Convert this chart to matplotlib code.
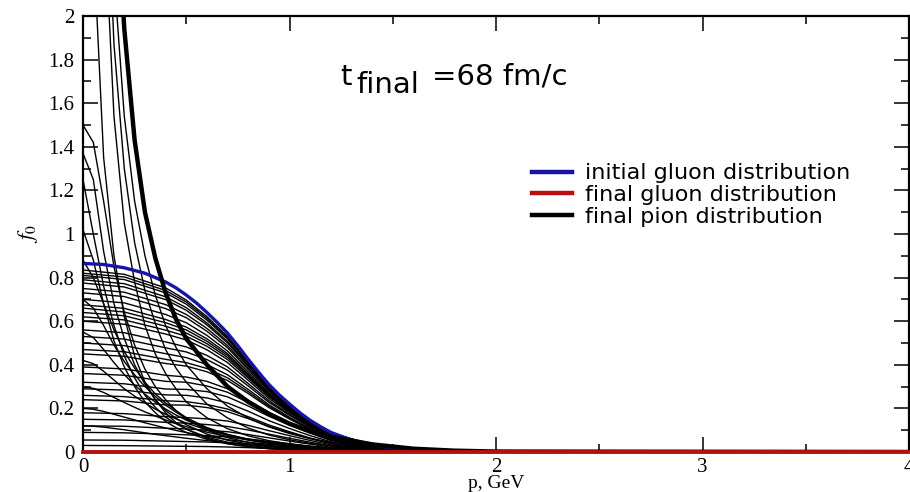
import matplotlib
matplotlib.use('Agg')
import matplotlib.pyplot as plt
from matplotlib.ticker import MultipleLocator

plt.rcParams['font.family'] = ['Liberation Serif', 'DejaVu Serif']
plt.rcParams['mathtext.fontset'] = 'stix'

# momentum grids (GeV)
p_blue = [0, 0.1, 0.2, 0.3, 0.4, 0.45, 0.5, 0.55, 0.6, 0.65, 0.7, 0.75, 0.8, 0.85, 0.9, 0.95,
          1.0, 1.05, 1.1, 1.15, 1.2, 1.3, 1.4, 1.5, 1.6, 1.8, 2.0, 4.0]
p_gluon = [0, 0.2, 0.4, 0.5, 0.6, 0.7, 0.8, 0.9, 1.0, 1.1, 1.2, 1.4, 1.6, 2.0, 4.0]
p_pion = [0, 0.05, 0.1, 0.15, 0.2, 0.25, 0.3, 0.35, 0.4, 0.45, 0.5, 0.6, 0.7, 0.8, 0.9, 1.0,
          1.1, 1.2, 1.4, 1.6, 1.8, 2.0, 4.0]
p_red = [0, 4.0]

# initial gluon distribution (blue)
gluon_initial = [0.865, 0.86, 0.845, 0.82, 0.78, 0.753, 0.72, 0.683, 0.64, 0.594, 0.545, 0.487,
                 0.425, 0.366, 0.31, 0.262, 0.22, 0.18, 0.145, 0.116, 0.09, 0.055, 0.033, 0.02,
                 0.012, 0.004, 0.001, 0]
# final gluon distribution (red)
gluon_final = [0.0, 0.0]
# final pion distribution (thick black)
pion_final = [12, 9.1, 4.3, 2.73, 1.94, 1.43, 1.1, 0.89, 0.73, 0.61, 0.52, 0.40, 0.30, 0.23,
              0.175, 0.13, 0.095, 0.07, 0.035, 0.015, 0.006, 0.002, 0]

# intermediate gluon distributions (on p_gluon)
gluon_mid = [
    [0.835, 0.815, 0.753, 0.697, 0.621, 0.53, 0.414, 0.303, 0.216, 0.143, 0.088, 0.032, 0.012, 0.001, 0],
    [0.82, 0.803, 0.741, 0.688, 0.613, 0.524, 0.41, 0.30, 0.214, 0.142, 0.088, 0.032, 0.012, 0.001, 0],
    [0.81, 0.791, 0.73, 0.678, 0.605, 0.518, 0.405, 0.297, 0.212, 0.14, 0.087, 0.032, 0.012, 0.001, 0],
    [0.79, 0.772, 0.712, 0.662, 0.592, 0.507, 0.399, 0.293, 0.209, 0.139, 0.086, 0.032, 0.011, 0.001, 0],
    [0.775, 0.757, 0.699, 0.65, 0.583, 0.5, 0.394, 0.289, 0.207, 0.137, 0.085, 0.031, 0.011, 0.001, 0],
    [0.75, 0.733, 0.676, 0.631, 0.567, 0.488, 0.385, 0.284, 0.203, 0.135, 0.084, 0.031, 0.011, 0.001, 0],
    [0.73, 0.713, 0.658, 0.616, 0.554, 0.478, 0.378, 0.279, 0.2, 0.134, 0.083, 0.03, 0.011, 0.001, 0],
    [0.70, 0.684, 0.631, 0.593, 0.535, 0.463, 0.367, 0.272, 0.196, 0.131, 0.081, 0.03, 0.011, 0.001, 0],
    [0.675, 0.659, 0.608, 0.573, 0.519, 0.451, 0.358, 0.266, 0.192, 0.129, 0.08, 0.029, 0.011, 0.001, 0],
    [0.66, 0.642, 0.593, 0.56, 0.508, 0.443, 0.352, 0.262, 0.19, 0.128, 0.079, 0.029, 0.011, 0.001, 0],
    [0.64, 0.625, 0.577, 0.546, 0.497, 0.434, 0.346, 0.258, 0.187, 0.126, 0.078, 0.029, 0.01, 0.001, 0],
    [0.62, 0.606, 0.559, 0.531, 0.485, 0.424, 0.339, 0.254, 0.185, 0.125, 0.077, 0.028, 0.01, 0.001, 0],
    [0.60, 0.586, 0.541, 0.514, 0.469, 0.41, 0.329, 0.246, 0.179, 0.121, 0.075, 0.027, 0.01, 0.001, 0],
    [0.56, 0.547, 0.505, 0.482, 0.443, 0.39, 0.314, 0.236, 0.172, 0.117, 0.073, 0.027, 0.01, 0.001, 0],
    [0.53, 0.518, 0.478, 0.459, 0.424, 0.375, 0.303, 0.228, 0.168, 0.114, 0.071, 0.026, 0.009, 0.001, 0],
    [0.50, 0.488, 0.451, 0.433, 0.401, 0.354, 0.287, 0.217, 0.159, 0.108, 0.067, 0.025, 0.009, 0.001, 0],
    [0.47, 0.46, 0.425, 0.41, 0.383, 0.34, 0.277, 0.21, 0.155, 0.105, 0.065, 0.024, 0.009, 0.001, 0],
    [0.45, 0.439, 0.406, 0.394, 0.368, 0.328, 0.268, 0.204, 0.151, 0.103, 0.064, 0.023, 0.009, 0.001, 0],
    [0.39, 0.381, 0.352, 0.344, 0.324, 0.29, 0.238, 0.182, 0.135, 0.093, 0.058, 0.021, 0.008, 0.001, 0],
    [0.36, 0.352, 0.324, 0.32, 0.303, 0.274, 0.227, 0.174, 0.13, 0.09, 0.056, 0.02, 0.007, 0.001, 0],
    [0.32, 0.313, 0.289, 0.287, 0.277, 0.253, 0.211, 0.164, 0.123, 0.086, 0.053, 0.02, 0.007, 0.001, 0],
    [0.29, 0.284, 0.262, 0.26, 0.248, 0.225, 0.187, 0.144, 0.108, 0.075, 0.047, 0.017, 0.006, 0, 0],
    [0.26, 0.254, 0.235, 0.231, 0.218, 0.197, 0.162, 0.124, 0.093, 0.064, 0.04, 0.015, 0.005, 0, 0],
    [0.24, 0.234, 0.216, 0.215, 0.204, 0.185, 0.153, 0.118, 0.088, 0.061, 0.038, 0.014, 0.005, 0, 0],
    [0.18, 0.176, 0.162, 0.158, 0.152, 0.142, 0.122, 0.098, 0.075, 0.053, 0.033, 0.012, 0.004, 0, 0],
    [0.15, 0.147, 0.136, 0.132, 0.126, 0.117, 0.101, 0.082, 0.063, 0.045, 0.028, 0.01, 0.004, 0, 0],
    [0.12, 0.118, 0.109, 0.106, 0.10, 0.093, 0.08, 0.065, 0.05, 0.036, 0.022, 0.008, 0.003, 0, 0],
    [0.09, 0.088, 0.082, 0.079, 0.075, 0.069, 0.06, 0.049, 0.038, 0.027, 0.017, 0.006, 0.002, 0, 0],
    [0.055, 0.054, 0.05, 0.048, 0.046, 0.042, 0.037, 0.03, 0.023, 0.016, 0.01, 0.004, 0.001, 0, 0],
    [0.03, 0.029, 0.027, 0.026, 0.025, 0.023, 0.02, 0.016, 0.012, 0.009, 0.006, 0.002, 0.001, 0, 0],
]

# intermediate pion distributions (on p_pion)
pion_mid = [
    [0.12, 0.118, 0.114, 0.108, 0.102, 0.095, 0.088, 0.081, 0.075, 0.069, 0.063, 0.052, 0.043, 0.035, 0.028, 0.022, 0.017, 0.013, 0.007, 0.004, 0.002, 0.001, 0],
    [0.2, 0.196, 0.186, 0.173, 0.16, 0.147, 0.134, 0.122, 0.11, 0.099, 0.089, 0.072, 0.057, 0.045, 0.035, 0.027, 0.021, 0.016, 0.009, 0.005, 0.002, 0.001, 0],
    [0.3, 0.292, 0.273, 0.25, 0.227, 0.205, 0.184, 0.165, 0.147, 0.131, 0.116, 0.091, 0.071, 0.055, 0.042, 0.032, 0.024, 0.018, 0.01, 0.005, 0.002, 0.001, 0],
    [0.42, 0.405, 0.37, 0.33, 0.29, 0.256, 0.225, 0.197, 0.173, 0.152, 0.133, 0.101, 0.077, 0.058, 0.044, 0.033, 0.025, 0.018, 0.01, 0.005, 0.002, 0.001, 0],
    [0.55, 0.525, 0.47, 0.41, 0.355, 0.307, 0.265, 0.229, 0.197, 0.17, 0.146, 0.108, 0.08, 0.059, 0.044, 0.032, 0.024, 0.017, 0.009, 0.005, 0.002, 0.001, 0],
    [0.7, 0.66, 0.58, 0.49, 0.415, 0.354, 0.30, 0.255, 0.215, 0.183, 0.155, 0.112, 0.081, 0.058, 0.042, 0.03, 0.022, 0.016, 0.008, 0.004, 0.002, 0.001, 0],
    [0.88, 0.8, 0.68, 0.56, 0.46, 0.385, 0.32, 0.267, 0.225, 0.19, 0.158, 0.11, 0.078, 0.055, 0.039, 0.028, 0.02, 0.014, 0.007, 0.004, 0.002, 0.001, 0],
    [1.02, 0.88, 0.68, 0.51, 0.39, 0.30, 0.23, 0.18, 0.14, 0.112, 0.09, 0.058, 0.038, 0.025, 0.016, 0.011, 0.007, 0.005, 0.002, 0.001, 0, 0, 0],
    [1.25, 1.0, 0.76, 0.58, 0.44, 0.34, 0.26, 0.205, 0.16, 0.13, 0.105, 0.068, 0.045, 0.03, 0.02, 0.013, 0.009, 0.006, 0.002, 0.001, 0, 0, 0],
    [1.37, 1.25, 0.92, 0.68, 0.52, 0.40, 0.31, 0.24, 0.19, 0.155, 0.125, 0.082, 0.054, 0.036, 0.024, 0.016, 0.011, 0.007, 0.003, 0.001, 0, 0, 0],
    [1.5, 1.42, 1.15, 0.85, 0.64, 0.49, 0.38, 0.30, 0.24, 0.19, 0.15, 0.10, 0.066, 0.044, 0.03, 0.02, 0.013, 0.009, 0.004, 0.002, 0.001, 0, 0],
    [3.2, 2.35, 1.35, 0.9, 0.62, 0.44, 0.32, 0.24, 0.18, 0.135, 0.105, 0.063, 0.038, 0.024, 0.015, 0.01, 0.006, 0.004, 0.002, 0.001, 0, 0, 0],
    [12, 5.5, 2.53, 1.54, 1.05, 0.78, 0.58, 0.45, 0.36, 0.29, 0.23, 0.157, 0.107, 0.074, 0.052, 0.037, 0.026, 0.019, 0.009, 0.004, 0.002, 0.001, 0],
    [12, 6.5, 3.0, 1.87, 1.30, 0.96, 0.74, 0.59, 0.47, 0.385, 0.32, 0.22, 0.156, 0.11, 0.078, 0.056, 0.04, 0.028, 0.014, 0.006, 0.003, 0.001, 0],
    [12, 7.5, 3.5, 2.19, 1.54, 1.15, 0.9, 0.72, 0.58, 0.48, 0.4, 0.29, 0.21, 0.156, 0.115, 0.085, 0.062, 0.045, 0.022, 0.01, 0.004, 0.002, 0],
]

fig = plt.figure(figsize=(9.1, 4.92), dpi=100)
ax = fig.add_axes([0.0912, 0.0813, 0.9078, 0.8862])

for row in gluon_mid:
    ax.plot(p_gluon, row, color='black', lw=1.0)
for row in pion_mid:
    ax.plot(p_pion, row, color='black', lw=1.0)

ax.plot(p_blue, gluon_initial, color='#1414a8', lw=2.4, label='initial gluon distribution')
ax.plot(p_red, gluon_final, color='#b81010', lw=2.8, label='final gluon distribution',
        clip_on=False, zorder=5)
ax.plot(p_pion, pion_final, color='black', lw=3.2, label='final pion distribution')

ax.set_xlim(0, 4)
ax.set_ylim(0, 2)
ax.xaxis.set_major_locator(MultipleLocator(1))
ax.xaxis.set_minor_locator(MultipleLocator(0.5))
ax.yaxis.set_minor_locator(MultipleLocator(0.1))
ax.set_yticks([0, 0.2, 0.4, 0.6, 0.8, 1, 1.2, 1.4, 1.6, 1.8, 2])
ax.set_yticklabels(['0', '0.2', '0.4', '0.6', '0.8', '1', '1.2', '1.4', '1.6', '1.8', '2'])
ax.tick_params(which='both', direction='in', top=True, right=True, width=1.1, labelsize=15)
ax.tick_params(axis='y', pad=6)
ax.tick_params(axis='x', pad=4)
ax.tick_params(which='major', length=11)
ax.tick_params(which='minor', length=6)
for s in ax.spines.values():
    s.set_linewidth(1.6)

ax.set_xlabel('p, GeV', fontsize=14, labelpad=-1)
ax.set_ylabel(r'$f_0$', fontsize=16, labelpad=6)

sans = 'DejaVu Sans'
ax.text(0.311, 0.842, 't', transform=ax.transAxes, fontsize=21, family=sans)
ax.text(0.3305, 0.823, 'final', transform=ax.transAxes, fontsize=21, family=sans)
ax.text(0.4225, 0.842, '=68 fm/c', transform=ax.transAxes, fontsize=21, family=sans)

leg = ax.legend(loc='upper left', bbox_to_anchor=(0.5436, 0.662), frameon=False,
                prop={'family': sans, 'size': 16}, handlelength=1.8, handletextpad=0.6,
                labelspacing=0.08, borderpad=0, borderaxespad=0)
for h in leg.get_lines():
    h.set_linewidth(3.2)

fig.savefig('out.png', dpi=100)
